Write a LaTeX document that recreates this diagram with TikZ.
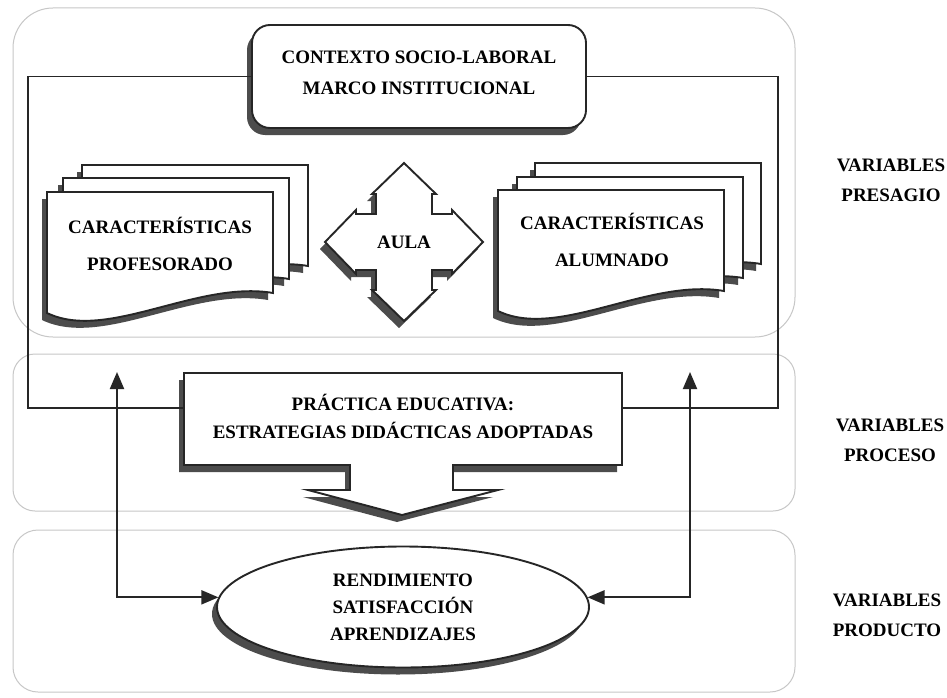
\documentclass[tikz,border=0pt]{standalone}
\usepackage{fontspec}
\setmainfont{Liberation Serif}
\usetikzlibrary{shadows,shapes.geometric,arrows.meta}
\newcommand\mydoc[2]{\path[shp,shd,shift={(#1,#2)}] (0,0) -- (226,0) -- (226,101) .. controls (150,88) and (60,150) .. (0,121) -- cycle;}
\begin{document}
\begin{tikzpicture}[x=1pt,y=-1pt,
  panel/.style={draw=black!22,line width=1pt},
  ln/.style={draw=black!85,line width=1.9pt},
  shp/.style={draw=black!85,line width=1.9pt,fill=white},
  shd/.style={drop shadow={shadow xshift=-5pt,shadow yshift=-7pt,fill=black!70,opacity=1}},
  lbl/.style={font=\fontsize{19}{#1}\selectfont\bfseries,align=center,text=black,inner sep=0pt},
  lbl/.default=30,
  arr/.style={ln,{Triangle[width=14pt,length=17pt]}-{Triangle[width=14pt,length=17pt]}}]
\useasboundingbox (0,0) rectangle (947,698);
\fill[white] (0,0) rectangle (947,698);
% panels
\draw[panel,rounded corners=40] (13,8) rectangle (795,337);
\draw[panel,rounded corners=22] (13,354) rectangle (795,511);
\draw[panel,rounded corners=25] (13,530) rectangle (795,692);
% context box
\node[shp,shd,rounded corners=18,minimum width=334,minimum height=103,inner sep=0pt] (ctx) at (419,76.5) {};
\node[lbl=31] (ctxt) at (419,72.5) {CONTEXTO SOCIO-LABORAL\\MARCO INSTITUCIONAL};
% practica callout
\path[shp,shd] (184,373) -- (622,373) -- (622,465) -- (453,465) -- (453,490) -- (498,490) -- (402,515) -- (308,490) -- (350,490) -- (350,465) -- (184,465) -- cycle;
\node[minimum width=438,minimum height=92,inner sep=0pt] (prac) at (403,419) {};
\node[lbl=28] (pract) at (403,416) {PRÁCTICA EDUCATIVA:\\ESTRATEGIAS DIDÁCTICAS ADOPTADAS};
% frame
\coordinate (fbl) at (28,408);
\coordinate (fbr) at (778,408);
\draw[ln] (ctx.west) -| (fbl) -- (fbl -| prac.west);
\draw[ln] (ctx.east) -| (fbr) -- (fbr -| prac.east);
% documents
\mydoc{82}{165}\mydoc{63}{178}\mydoc{47}{192}
\node[lbl=37] (docL) at (160,243.5) {CARACTERÍSTICAS\\PROFESORADO};
\mydoc{535}{163}\mydoc{517}{177}\mydoc{498}{190}
\node[lbl=37] (docR) at (612,240) {CARACTERÍSTICAS\\ALUMNADO};
% aula
\path[shp,shd,shift={(404,242)}] (0,-79) -- (32,-48) -- (28,-48) -- (28,-28) -- (48,-28) -- (48,-32) -- (79,0) -- (48,32) -- (48,28) -- (28,28) -- (28,48) -- (32,48) -- (0,79) -- (-32,48) -- (-28,48) -- (-28,28) -- (-48,28) -- (-48,32) -- (-79,0) -- (-48,-32) -- (-48,-28) -- (-28,-28) -- (-28,-48) -- (-32,-48) -- cycle;
\node[lbl] (aula) at (404,242) {AULA};
% result ellipse
\node[ellipse,shp,shd,minimum width=372,minimum height=121,inner sep=0pt,lbl=27] (res) at (403,607) {RENDIMIENTO\\SATISFACCIÓN\\APRENDIZAJES};
% arrows
\coordinate (al) at (117,372);
\coordinate (ar) at (690,372);
\draw[arr] (al) |- (res.177);
\draw[arr] (ar) |- (res.3);
% side labels
\node[lbl] (vpre) at (891,180) {VARIABLES\\PRESAGIO};
\node[lbl] (vpro) at (890,440) {VARIABLES\\PROCESO};
\node[lbl] (vprd) at (887,615) {VARIABLES\\PRODUCTO};
\end{tikzpicture}
\end{document}
